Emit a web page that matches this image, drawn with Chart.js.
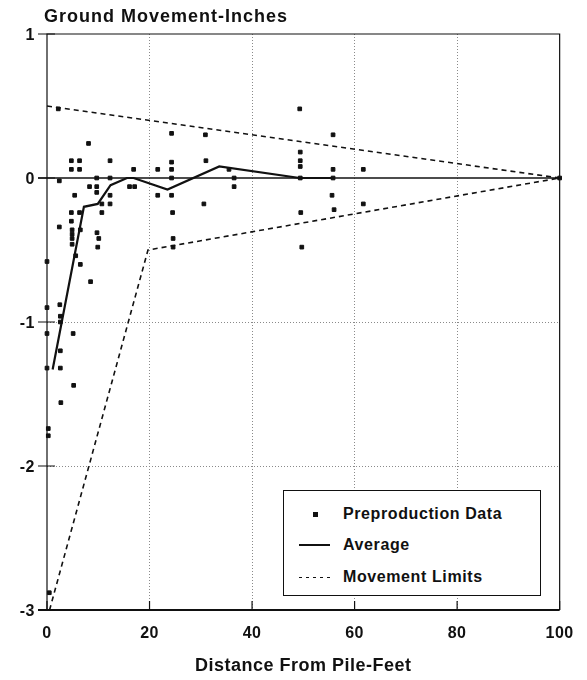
<!DOCTYPE html>
<html>
<head>
<meta charset="utf-8">
<script src="https://cdn.jsdelivr.net/npm/chart.js@4.4.1/dist/chart.umd.min.js"></script>
<style>
  html, body { margin: 0; padding: 0; background: #fff; }
  #wrap { position: relative; width: 587px; height: 680px; }
  #c { position: absolute; left: 0; top: 0; }
  .txt { font-family: "Liberation Sans", Arial, sans-serif; font-weight: bold; color: #111; position: absolute; white-space: nowrap; }
  #ytitle { left: 44px; top: 7px; font-size: 18px; line-height: 18px; letter-spacing: 1px; }
  #legend { position: absolute; left: 283px; top: 490px; width: 256px; height: 104px; border: 1.5px solid #111; background: #fff; }
  .row { position: absolute; left: 0; height: 20px; width: 100%; }
  .row .lab { left: 59px; top: 0; font-size: 16px; line-height: 20px; letter-spacing: 0.6px; }
  .mk { position: absolute; left: 29px; top: 8px; width: 5px; height: 5px; background: #111; }
  .ln { position: absolute; left: 15px; top: 9px; width: 31px; height: 2px; background: #111; }
  .dl { position: absolute; left: 15px; top: 10px; width: 31px; height: 1px; background: repeating-linear-gradient(to right, #111 0 3px, transparent 3px 7px); }
</style>
</head>
<body>
<div id="wrap">
  <canvas id="c" width="587" height="680"></canvas>
  <div id="ytitle" class="txt">Ground Movement-Inches</div>
  <div id="legend">
    <div class="row" style="top:13px"><div class="mk"></div><div class="txt lab">Preproduction Data</div></div>
    <div class="row" style="top:44px"><div class="ln"></div><div class="txt lab">Average</div></div>
    <div class="row" style="top:76px"><div class="dl"></div><div class="txt lab">Movement Limits</div></div>
  </div>
</div>
<script>
// ---- data ----
const xTickValues = [0, 20, 40, 60, 80, 100];
const yTickValues = [1, 0, -1, -2, -3];

const preX = [2.2, 8.1, 4.75, 6.35, 12.3, 4.75, 6.35, 16.9, 2.4, 9.7, 12.3, 8.3, 9.7, 9.7, 16.1, 17.1,
  5.4, 12.3, 10.7, 12.3, 10.7, 4.75, 6.35, 4.75, 2.4, 4.9, 4.9, 6.5, 9.75, 10.1, 4.9, 4.9, 9.9, 5.6,
  6.5, 0, 8.5, 0, 2.5, 2.6, 2.6, 0, 5.1, 2.6, 0, 2.6, 5.2, 2.7, 0.25, 0.25, 0.45,
  24.3, 30.9, 21.6, 24.3, 24.3, 31.0, 35.5, 24.3, 36.5, 21.6, 24.3, 36.5, 30.6, 24.5, 24.6, 24.6,
  49.3, 55.8, 49.4, 49.4, 49.4, 55.8, 61.7, 49.4, 55.8, 55.6, 56.0, 61.7, 49.5, 49.7, 100];
const preY = [0.48, 0.24, 0.12, 0.12, 0.12, 0.06, 0.06, 0.06, -0.02, 0.0, 0.0, -0.06, -0.06, -0.10, -0.06, -0.06,
  -0.12, -0.12, -0.18, -0.18, -0.24, -0.24, -0.24, -0.30, -0.34, -0.36, -0.39, -0.36, -0.38, -0.42, -0.42, -0.46, -0.48, -0.54,
  -0.60, -0.58, -0.72, -0.90, -0.88, -0.96, -1.00, -1.08, -1.08, -1.20, -1.32, -1.32, -1.44, -1.56, -1.74, -1.79, -2.88,
  0.31, 0.30, 0.06, 0.11, 0.06, 0.12, 0.06, 0.0, 0.0, -0.12, -0.12, -0.06, -0.18, -0.24, -0.42, -0.48,
  0.48, 0.30, 0.18, 0.12, 0.08, 0.06, 0.06, 0.0, 0.0, -0.12, -0.22, -0.18, -0.24, -0.48, 0.0];

const avgX = [1.1, 7.2, 9.9, 12.4, 15.6, 16.9, 23.5, 33.6, 49.3, 55.8];
const avgY = [-1.33, -0.20, -0.18, -0.05, 0.0, 0.0, -0.08, 0.08, 0.0, 0.0];

const limUpX = [0, 100];
const limUpY = [0.5, 0];
const limLoX = [0.5, 19.7, 100];
const limLoY = [-3.0, -0.5, 0];

const toXY = (xs, ys) => xs.map((v, i) => ({ x: v, y: ys[i] }));

const FONT = '"Liberation Sans", Arial, sans-serif';

const framePlugin = {
  id: 'frame',
  beforeDraw(chart) { chart.ctx.letterSpacing = '0.5px'; },
  beforeDatasetsDraw(chart) {
    const { ctx, chartArea: a, scales: { x, y } } = chart;
    ctx.save();
    ctx.strokeStyle = '#111';
    ctx.setLineDash([]);
    ctx.lineWidth = 1.2;
    ctx.beginPath();
    ctx.moveTo(a.left, a.bottom); ctx.lineTo(a.left, a.top);
    ctx.lineTo(a.right, a.top); ctx.lineTo(a.right, a.bottom);
    ctx.stroke();
    ctx.lineWidth = 2;
    ctx.beginPath();
    ctx.moveTo(a.left - 9, a.bottom); ctx.lineTo(a.right, a.bottom);
    ctx.stroke();
    const y0 = y.getPixelForValue(0);
    ctx.lineWidth = 1.5;
    ctx.beginPath(); ctx.moveTo(a.left - 9, y0); ctx.lineTo(a.right, y0); ctx.stroke();
    ctx.lineWidth = 1.2;
    ctx.beginPath();
    y.ticks.forEach(t => {
      const py = y.getPixelForValue(t.value);
      ctx.moveTo(a.left - 9, py); ctx.lineTo(a.left + 8, py);
    });
    x.ticks.forEach(t => {
      const px = x.getPixelForValue(t.value);
      ctx.moveTo(px, a.bottom); ctx.lineTo(px, a.bottom - 9);
    });
    ctx.stroke();
    ctx.restore();
  }
};

const inner = (lim) => (c) => {
  const v = c.tick ? c.tick.value : null;
  return (v !== null && v > lim.min && v < lim.max && v !== 0) ? '#8a8a8a' : 'rgba(0,0,0,0)';
};

new Chart(document.getElementById('c'), {
  type: 'scatter',
  data: {
    datasets: [
      { label: 'Preproduction Data', data: toXY(preX, preY), pointStyle: 'rect', pointRadius: 2.6,
        pointBorderWidth: 1, backgroundColor: '#111', borderColor: '#111', showLine: false, clip: false },
      { label: 'Average', data: toXY(avgX, avgY), showLine: true, borderColor: '#111', borderWidth: 2.2,
        pointRadius: 0, tension: 0, clip: false },
      { label: 'Movement Limits', data: toXY(limUpX, limUpY), showLine: true, borderColor: '#111',
        borderWidth: 1.6, borderDash: [5, 4], pointRadius: 0, clip: false },
      { label: 'Movement Limits (lower)', data: toXY(limLoX, limLoY), showLine: true, borderColor: '#111',
        borderWidth: 1.6, borderDash: [5, 4], pointRadius: 0, clip: false }
    ]
  },
  options: {
    responsive: false,
    animation: false,
    devicePixelRatio: 1,
    layout: { padding: { top: 34, right: 20, left: 0, bottom: 0 } },
    plugins: { legend: { display: false }, tooltip: { enabled: false }, title: { display: false } },
    scales: {
      x: {
        type: 'linear', min: 0, max: 100,
        afterBuildTicks: s => { s.ticks = xTickValues.map(v => ({ value: v })); },
        afterFit: s => { s.height = 70; },
        grid: { color: c => inner({ min: 0, max: 100 })(c), lineWidth: 1, drawTicks: false },
        border: { display: false, dash: [1, 2] },
        ticks: { color: '#111', padding: 14, font: { family: FONT, size: 16, weight: 'bold' }, maxRotation: 0 },
        title: { display: true, text: 'Distance From Pile-Feet', color: '#111', padding: { top: 0, bottom: 3 },
                 font: { family: FONT, size: 18, weight: 'bold' } }
      },
      y: {
        type: 'linear', min: -3, max: 1,
        afterBuildTicks: s => { s.ticks = yTickValues.map(v => ({ value: v })); },
        afterFit: s => { s.width = 47; },
        grid: { color: c => inner({ min: -3, max: 1 })(c), lineWidth: 1, drawTicks: false },
        border: { display: false, dash: [1, 2] },
        ticks: { color: '#111', padding: 12, labelOffset: 2, font: { family: FONT, size: 16, weight: 'bold' } }
      }
    }
  },
  plugins: [framePlugin]
});
</script>
</body>
</html>
